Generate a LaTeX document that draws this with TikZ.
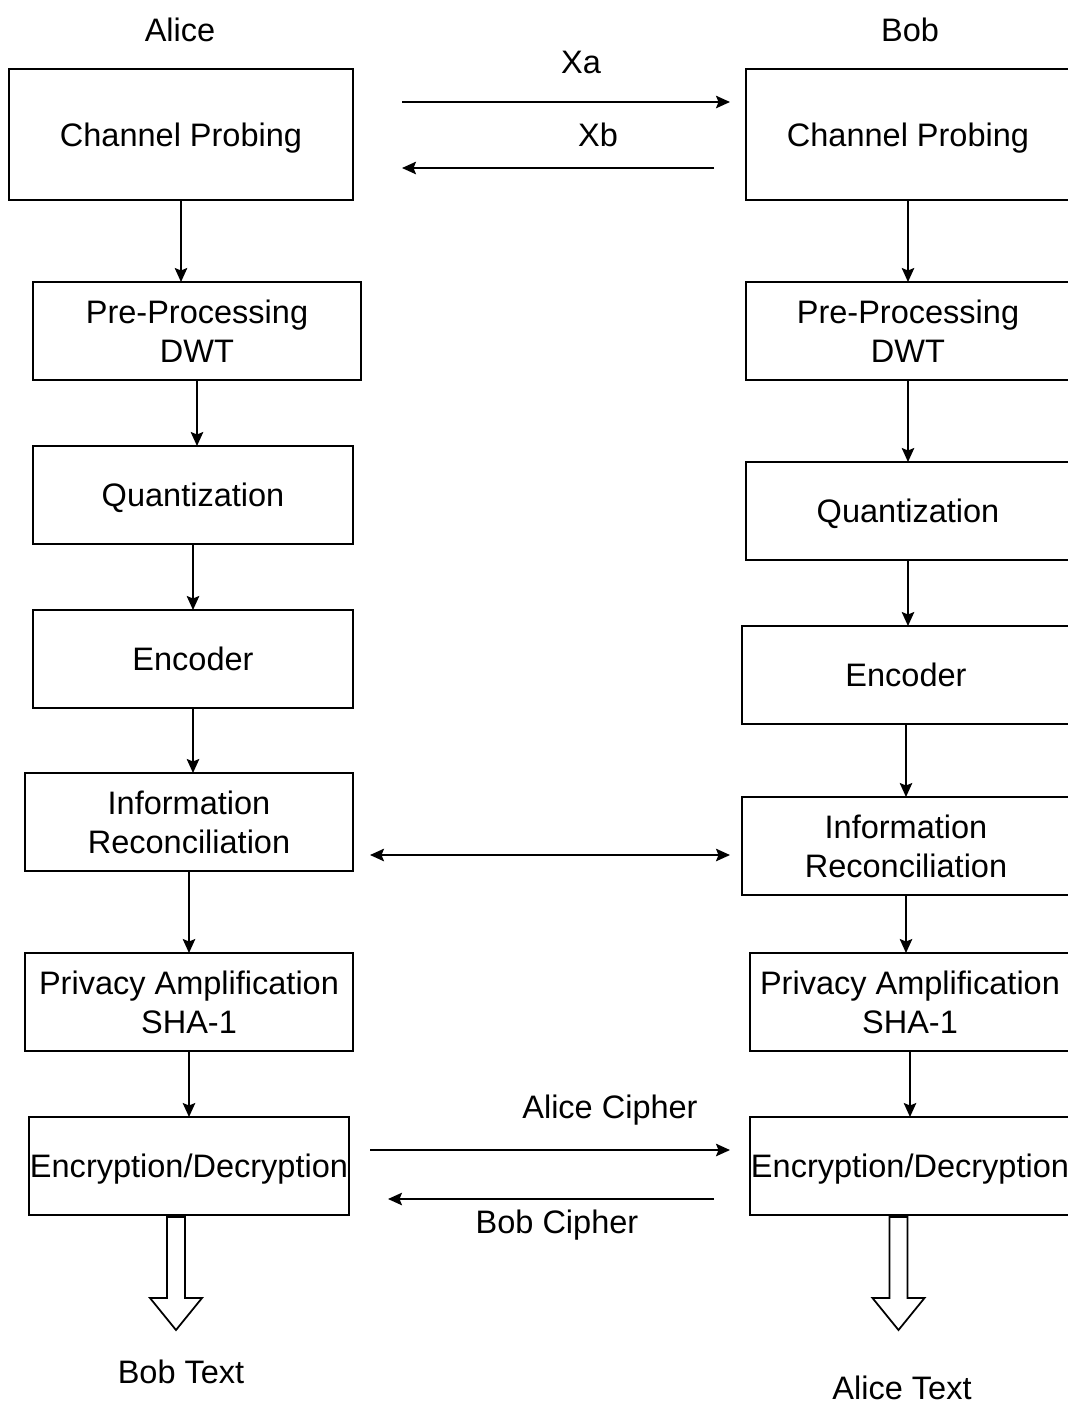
\documentclass[tikz,border=0pt]{standalone}
\usepackage{fontspec}
\setmainfont{Liberation Sans}
\usetikzlibrary{arrows.meta, positioning, calc}

\begin{document}
\begin{tikzpicture}[
        node distance=1.32cm,
        every node/.style={inner sep=2pt,font=\fontsize{18.5}{22}\selectfont},
        block/.style={draw, minimum height=1.96cm, align=center, inner sep=0pt, outer sep=0pt, text depth=0pt},
        line width=1pt,
        >={Stealth[length=2.8mm, width=2.5mm, inset=0.5mm]} % filled arrow tips
    ]
        \useasboundingbox (0,0) rectangle (21.36,-28.1);
        \clip (0,0) rectangle (21.36,-28.1);

        % Party names
        \node (alice) at (3.6,-0.6)  {Alice};
        \node (bob)   at (18.2,-0.6) {Bob};

        % Alice's chain
        \node[block, minimum width=6.88cm, minimum height=2.62cm] (aCP) at (3.62,-2.69) {Channel Probing};
        \node[block, minimum width=6.56cm, below=1.64cm of aCP, xshift=0.32cm] (aPre) {Pre-Processing\\DWT};
        \node[block, minimum width=6.4cm, below=of aPre, xshift=-0.08cm] (aQua) {Quantization};
        \node[block, minimum width=6.4cm, below=of aQua] (aEnc) {Encoder};
        \node[block, minimum width=6.56cm, below=1.3cm of aEnc, xshift=-0.08cm] (aIR) {Information\\Reconciliation};
        \node[block, minimum width=6.56cm, below=1.64cm of aIR] (aPA) {Privacy Amplification\\SHA-1};
        \node[block, minimum width=6.4cm, below=of aPA] (aED) {Encryption/Decryption};

        % Bob's chain (cut by the right edge)
        \node[block, minimum width=6.48cm, minimum height=2.62cm] (bCP) at (18.16,-2.69) {Channel Probing};
        \node[block, minimum width=6.48cm, below=1.64cm of bCP] (bPre) {Pre-Processing\\DWT};
        \node[block, minimum width=6.48cm, below=1.64cm of bPre] (bQua) {Quantization};
        \node[block, minimum width=6.56cm, below=of bQua, xshift=-0.04cm] (bEnc) {Encoder};
        \node[block, minimum width=6.56cm, below=1.46cm of bEnc] (bIR) {Information\\Reconciliation};
        \node[block, minimum width=6.4cm, below=1.16cm of bIR, xshift=0.08cm] (bPA) {Privacy Amplification\\SHA-1};
        \node[block, minimum width=6.4cm, below=of bPA] (bED) {Encryption/Decryption};

        % Outputs
        \node (bText) at (3.62,-27.44)  {Bob Text};
        \node (aText) at (18.04,-27.76) {Alice Text};

        % Exchange labels
        \node (xa)    at (11.62,-1.24) {Xa};
        \node (xb)    at (11.96,-2.7)  {Xb};
        \node (aCiph) at (12.2,-22.2)  {Alice Cipher};
        \node (bCiph) at (11.14,-24.5) {Bob Cipher};

        % Free ends of the exchange arrows
        \coordinate (xaS) at (8.04,-2.04);
        \coordinate (xaE) at (14.6,-2.04);
        \coordinate (xbS) at (14.28,-3.36);
        \coordinate (xbE) at (8.04,-3.36);
        \coordinate (irL) at (7.4,-17.1);
        \coordinate (irR) at (14.6,-17.1);
        \coordinate (acS) at (7.4,-23.0);
        \coordinate (acE) at (14.6,-23.0);
        \coordinate (bcS) at (14.28,-23.98);
        \coordinate (bcE) at (7.76,-23.98);

        % Downward steps, Alice
        \draw[->] (aCP.south)  -- (aCP.south |- aPre.north);
        \draw[->] (aPre.south) -- (aPre.south |- aQua.north);
        \draw[->] (aQua.south) -- (aQua.south |- aEnc.north);
        \draw[->] (aEnc.south) -- (aEnc.south |- aIR.north);
        \draw[->] (aIR.south)  -- (aIR.south |- aPA.north);
        \draw[->] (aPA.south)  -- (aPA.south |- aED.north);

        % Downward steps, Bob
        \draw[->] (bCP.south)  -- (bCP.south |- bPre.north);
        \draw[->] (bPre.south) -- (bPre.south |- bQua.north);
        \draw[->] (bQua.south) -- (bQua.south |- bEnc.north);
        \draw[->] (bEnc.south) -- (bEnc.south |- bIR.north);
        \draw[->] (bIR.south)  -- (bIR.south |- bPA.north);
        \draw[->] (bPA.south)  -- (bPA.south |- bED.north);

        % Messages between the parties
        \draw[->]  (xaS) -- (xaE);
        \draw[->]  (xbS) -- (xbE);
        \draw[<->] (irL) -- (irR);
        \draw[->]  (acS) -- (acE);
        \draw[->]  (bcS) -- (bcE);

        % Hollow output arrows
        \draw ($(aED.south)+(-0.44,-0.04)$) -- ++(0,-1.62) -- ++(-0.34,0) -- ++(0.52,-0.64)
            -- ++(0.52,0.64) -- ++(-0.34,0) -- ++(0,1.62) -- cycle;
        \draw ($(bED.south)+(-0.41,-0.04)$) -- ++(0,-1.62) -- ++(-0.34,0) -- ++(0.52,-0.64)
            -- ++(0.52,0.64) -- ++(-0.34,0) -- ++(0,1.62) -- cycle;

    \end{tikzpicture}
\end{document}
